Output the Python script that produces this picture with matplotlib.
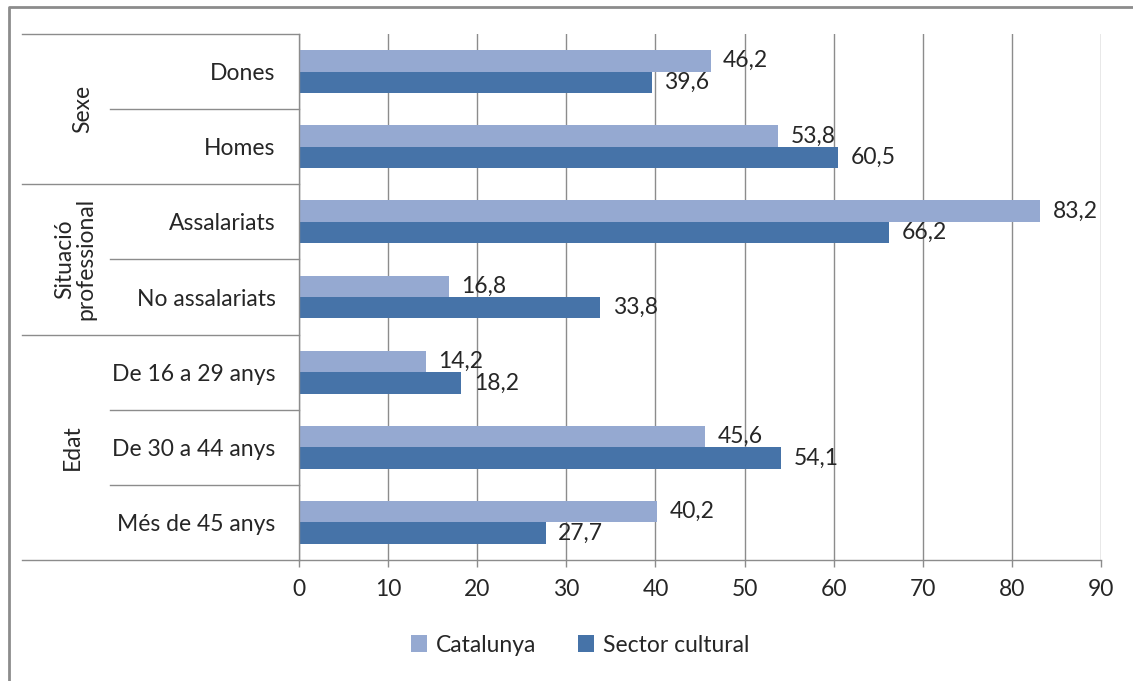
import numpy as np
import matplotlib.pyplot as plt
from matplotlib.lines import Line2D

plt.rcParams['font.family'] = ['Lato', 'DejaVu Sans']

# data
categories = ['Dones', 'Homes', 'Assalariats', 'No assalariats',
              'De 16 a 29 anys', 'De 30 a 44 anys', 'Més de 45 anys']
catalunya = [46.2, 53.8, 83.2, 16.8, 14.2, 45.6, 40.2]
sector_cultural = [39.6, 60.5, 66.2, 33.8, 18.2, 54.1, 27.7]
groups = ['Sexe', 'Situació\nprofessional', 'Edat']
group_sizes = [2, 2, 3]
xticks = np.arange(0, 100, 10)

c_light = '#95A9D1'
c_dark = '#4673A8'
grid_c = '#8C8C8C'
text_c = '#262626'
fs = 16.5

W, H = 1133, 681
fig = plt.figure(figsize=(W / 100, H / 100), dpi=100)
ax = fig.add_axes([299 / W, 1 - 560 / H, (1101 - 299) / W, (560 - 34) / H])

y = np.arange(len(categories))
h = 0.286
b1 = ax.barh(y - h / 2, catalunya, height=h, color=c_light, label='Catalunya')
b2 = ax.barh(y + h / 2, sector_cultural, height=h, color=c_dark, label='Sector cultural')

fmt = lambda v: f'{v:.1f}'.replace('.', ',')
for bars, vals in ((b1, catalunya), (b2, sector_cultural)):
    for rect, v in zip(bars, vals):
        ax.annotate(fmt(v), (v, rect.get_y() + rect.get_height() / 2),
                    xytext=(9, 0), textcoords='offset points',
                    va='center', ha='left', fontsize=fs, color=text_c)

ax.set_xlim(0, 90)
ax.set_ylim(len(categories) - 0.5, -0.5)
ax.set_xticks(xticks)
ax.set_yticks(y)
ax.set_yticklabels(categories)
ax.tick_params(axis='y', length=0, pad=17, labelsize=fs, labelcolor=text_c)
ax.tick_params(axis='x', length=5, width=1, color=grid_c, pad=9,
               labelsize=fs, labelcolor=text_c)
ax.grid(axis='x', color=grid_c, linewidth=1)
ax.set_axisbelow(True)
for s in ('top', 'right'):
    ax.spines[s].set_visible(False)
for s in ('left', 'bottom'):
    ax.spines[s].set_color(grid_c)
    ax.spines[s].set_linewidth(1)

# group label area on the left
trans = ax.get_yaxis_transform()
x_outer = (22 - 299) / (1101 - 299)
x_inner = (110 - 299) / (1101 - 299)
bounds = np.concatenate([[0], np.cumsum(group_sizes)]) - 0.5
for i in range(len(categories) + 1):
    yy = i - 0.5
    x0 = x_outer if yy in bounds else x_inner
    ax.add_line(Line2D([x0, 0], [yy, yy], transform=trans, color=grid_c,
                       linewidth=1, clip_on=False))
group_x = [(83 - 299) / 802, (75 - 299) / 802, (72 - 299) / 802]
for g, lo, hi, gx in zip(groups, bounds[:-1], bounds[1:], group_x):
    ax.text(gx, (lo + hi) / 2, g, transform=trans, rotation=90,
            ha='center', va='center', fontsize=fs, color=text_c,
            linespacing=1.0, multialignment='center')

ax.legend(loc='center', bbox_to_anchor=(580 / W, 1 - 645 / H),
          bbox_transform=fig.transFigure, ncol=2, frameon=False,
          fontsize=fs, handlelength=0.7, handleheight=0.7,
          handletextpad=0.4, columnspacing=1.8, labelcolor=text_c)

# outer frame (only left and top edges are visible in the crop)
fig.add_artist(Line2D([9 / W, 9 / W, 1], [0, 1 - 7 / H, 1 - 7 / H],
                      transform=fig.transFigure, color=grid_c, linewidth=2))

fig.savefig('out.png', dpi=100)
